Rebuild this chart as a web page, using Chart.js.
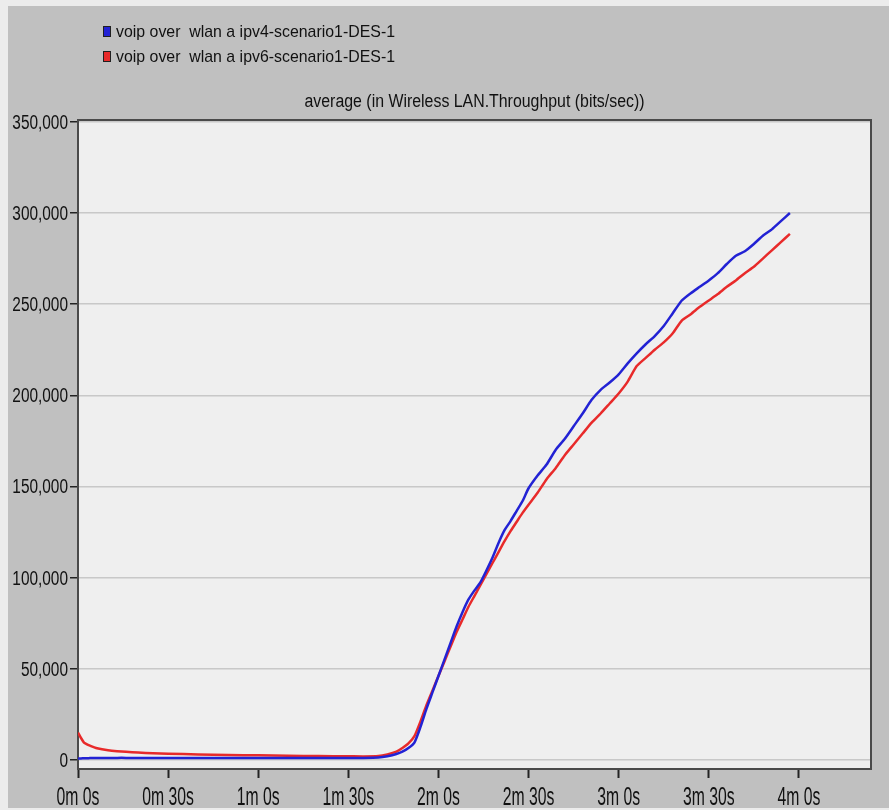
<!DOCTYPE html>
<html>
<head>
<meta charset="utf-8">
<script src="https://cdn.jsdelivr.net/npm/chart.js@4.4.1/dist/chart.umd.min.js"></script>
<style>
  html, body { margin: 0; padding: 0; background: #c0c0c0; }
  canvas { display: block; }
</style>
</head>
<body>
<canvas id="throughputChart" width="889" height="810"></canvas>
<script>
// tiempos en segundos
const times = [0, 1, 2, 3, 4, 6, 8, 10, 13, 16, 20, 25, 30, 40, 50, 60, 70, 80, 90, 95,
  100, 103, 106, 108, 110, 112, 114, 116, 118, 120, 122, 124, 126, 128, 130, 132, 134, 136, 138, 140,
  142, 144, 146, 148, 150, 153, 156, 159, 162, 165, 168, 171, 174, 177, 180, 183, 186, 189, 192, 195,
  198, 201, 204, 207, 210, 213, 216, 219, 222, 225, 228, 231, 234, 237];

const ipv4Values = [800, 800, 900, 900, 1000, 1000, 1000, 1000, 1100, 1100, 1100, 1100, 1100, 1100, 1100, 1100, 1100, 1100, 1100, 1100,
  1300, 2000, 3200, 4500, 6500, 9500, 18000, 28000, 37000, 46000, 55000, 64000, 73000, 81000, 88000, 93000, 97500, 104000, 111000, 119000,
  126000, 131000, 136500, 142000, 149000, 156000, 162000, 170000, 176000, 183000, 190000, 197500, 203000, 207000, 211500, 217500, 223000, 228000, 232500, 238000,
  245000, 252000, 256000, 259500, 263000, 267000, 272000, 276500, 279000, 283000, 287500, 291000, 295500, 300000];

const ipv6Values = [15000, 12000, 9500, 8500, 7800, 6500, 5800, 5300, 4800, 4400, 4000, 3700, 3400, 3000, 2700, 2500, 2300, 2100, 2000, 1900,
  2100, 3000, 4500, 6500, 9000, 13000, 21000, 30000, 38000, 46000, 54000, 62000, 70000, 77000, 84000, 90000, 96000, 102000, 108000, 114000,
  120000, 125500, 130500, 135500, 140000, 146500, 154000, 160000, 167000, 173000, 179000, 185000, 190000, 195500, 201000, 207500, 216000, 220500, 225000, 229000,
  234000, 241000, 244500, 248500, 252000, 255500, 259500, 263000, 267000, 270500, 275000, 279500, 284000, 288500];

const seriesLabels = ['voip over  wlan a ipv4-scenario1-DES-1', 'voip over  wlan a ipv6-scenario1-DES-1'];
const seriesColors = ['#2222d4', '#e82a2a'];
const chartTitle = 'average (in Wireless LAN.Throughput (bits/sec))';
const xTicks = [0, 30, 60, 90, 120, 150, 180, 210, 240];
const yTicks = [0, 50000, 100000, 150000, 200000, 250000, 300000, 350000];

const FONT = '"Liberation Sans", Arial, sans-serif';

function toPoints(vals) {
    return vals.map((v, i) => ({ x: times[i], y: v }));
}

function xLabel(v) {
    return Math.floor(v / 60) + 'm ' + (v % 60) + 's';
}

// texto estrecho (tipo Arial Narrow) escalando en horizontal
function narrowText(c, text, x, y, align, size, sx) {
    c.save();
    c.font = size + 'px ' + FONT;
    c.textAlign = align;
    c.textBaseline = 'alphabetic';
    c.translate(x, y);
    c.scale(sx, 1);
    c.fillText(text, 0, 0);
    c.restore();
}

function fitText(c, text, x, y, align, size, width) {
    c.save();
    c.font = size + 'px ' + FONT;
    const sx = width / c.measureText(text).width;
    c.restore();
    narrowText(c, text, x, y, align, size, sx);
}

// fondo, marco, etiquetas, leyenda y título
const decorPlugin = {
    id: 'decor',
    beforeDraw(chart) {
        const c = chart.ctx;
        const a = chart.chartArea;
        c.save();
        c.fillStyle = '#c0c0c0';
        c.fillRect(0, 0, chart.width, chart.height);
        c.fillStyle = '#ececec';
        c.fillRect(0, 0, chart.width, 6);
        c.fillRect(0, 0, 8, chart.height);
        c.fillRect(0, chart.height - 2, chart.width, 2);
        c.fillStyle = '#efefef';
        c.fillRect(a.left, a.top, a.right - a.left, a.bottom - a.top);
        c.restore();
    },
    afterDraw(chart) {
        const c = chart.ctx;
        const a = chart.chartArea;
        c.save();
        c.strokeStyle = '#4a4a4a';
        c.lineWidth = 2;
        c.beginPath();
        c.moveTo(a.left, a.top);
        c.lineTo(a.right, a.top);
        c.lineTo(a.right, a.bottom);
        c.stroke();

        c.fillStyle = '#111';
        // etiquetas del eje y
        yTicks.forEach(v => {
            const py = chart.scales.y.getPixelForValue(v);
            narrowText(c, v.toLocaleString('en-US'), 68, py + 7, 'right', 19.5, 0.79);
        });
        // etiquetas del eje x
        xTicks.forEach(v => {
            const px = chart.scales.x.getPixelForValue(v);
            narrowText(c, xLabel(v), px, 805, 'center', 25, 0.63);
        });

        // leyenda
        seriesLabels.forEach((lbl, i) => {
            const y = 37 + i * 25;
            c.fillStyle = seriesColors[i];
            c.fillRect(103, y - 11, 8, 11);
            c.strokeStyle = '#202020';
            c.lineWidth = 1;
            c.strokeRect(103.5, y - 10.5, 7, 10);
            c.fillStyle = '#111';
            fitText(c, lbl, 116, y, 'left', 17, 279);
        });

        // título
        c.fillStyle = '#111';
        fitText(c, chartTitle, (a.left + a.right) / 2, 107, 'center', 18, 340);
        c.restore();
    }
};

const ctx = document.getElementById('throughputChart').getContext('2d');
new Chart(ctx, {
    type: 'line',
    data: {
        datasets: [
            { label: seriesLabels[0], data: toPoints(ipv4Values), borderColor: seriesColors[0], borderWidth: 2.5, pointRadius: 0, tension: 0.2 },
            { label: seriesLabels[1], data: toPoints(ipv6Values), borderColor: seriesColors[1], borderWidth: 2.5, pointRadius: 0, tension: 0.2 }
        ]
    },
    options: {
        responsive: false,
        animation: false,
        layout: { padding: { left: 0, right: 18, top: 120, bottom: 0 } },
        plugins: {
            legend: { display: false },
            title: { display: false },
            tooltip: { enabled: false }
        },
        scales: {
            x: {
                type: 'linear',
                min: 0,
                max: 264,
                afterBuildTicks: s => { s.ticks = xTicks.map(v => ({ value: v })); },
                afterFit: s => { s.height = 41; },
                grid: { drawOnChartArea: false, tickColor: '#222', tickLength: 9, tickWidth: 2 },
                border: { color: '#4a4a4a', width: 2 },
                ticks: { display: false, autoSkip: false }
            },
            y: {
                type: 'linear',
                min: -5000,
                max: 351000,
                afterBuildTicks: s => { s.ticks = yTicks.map(v => ({ value: v })); },
                afterFit: s => { s.width = 78; },
                grid: { color: '#c8c8c8', lineWidth: 1.5, tickColor: '#222', tickLength: 8, tickWidth: 1.5 },
                border: { color: '#4a4a4a', width: 2 },
                ticks: { display: false }
            }
        }
    },
    plugins: [decorPlugin]
});
</script>
</body>
</html>
